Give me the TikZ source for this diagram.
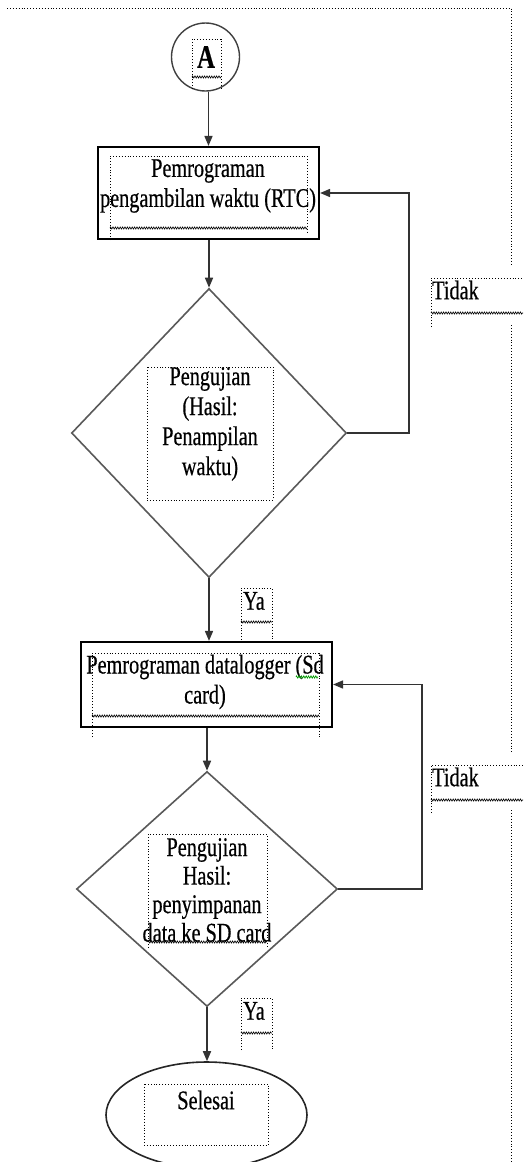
\documentclass[tikz,border=0pt]{standalone}
\usepackage{fontspec}
\setmainfont{Liberation Serif}
\newfontfamily\labfont[FakeStretch=0.75,FakeBold=0.5]{Liberation Serif}
\usetikzlibrary{shapes.geometric,arrows.meta,decorations.pathmorphing}

\begin{document}
\begin{tikzpicture}[x=1pt,y=-1pt,
  txt/.style={font=\labfont\fontsize{27}{30}\selectfont, align=center, inner sep=0pt, text=black},
  proc/.style={draw=black, line width=2.2pt, rectangle, inner sep=0pt},
  dec/.style={draw=black!65, line width=1.6pt, diamond, inner sep=0pt},
  arr/.style={draw=black!80, line width=1.6pt, -{Triangle[length=10pt,width=8pt]}},
  frame/.style={dotted, line width=0.9pt},
  wavy/.style={decorate, decoration={zigzag, segment length=2.4pt, amplitude=1.1pt}, line width=0.6pt},
]
\useasboundingbox (0,0) rectangle (523,1162);

% flowchart shapes
\node[circle, draw=black!75, line width=1.4pt, minimum size=68pt, inner sep=0pt] (start) at (205.5,57) {};
\node[proc, minimum width=221pt, minimum height=92pt] (rtc) at (208.5,193) {};
\node[dec, minimum width=275pt, minimum height=289pt] (cek1) at (209,433) {};
\node[proc, minimum width=251pt, minimum height=85pt] (sd) at (206.5,684.5) {};
\node[dec, minimum width=261pt, minimum height=235pt] (cek2) at (207,889) {};
\node[ellipse, draw=black!85, line width=1.6pt, minimum width=201pt, minimum height=106pt, inner sep=0pt] (end) at (206.5,1115) {};

% connectors
\draw[arr] (rtc.north |- start.south) -- (rtc.north);
\draw[arr] (rtc.south -| cek1.north) -- (cek1.north);
\draw[arr] (cek1.south) -- (cek1.south |- sd.north);
\draw[arr] (sd.south -| cek2.north) -- (cek2.north);
\draw[arr] (cek2.south) -- (cek2.south |- end.north);
\coordinate (loop1) at (409,193);
\coordinate (loop2) at (422,684.5);
\draw[arr] (cek1.east) -| (loop1) -- (rtc.east);
\draw[arr] (cek2.east) -| (loop2) -- (sd.east);

% labels
\node[txt, font=\labfont\bfseries\fontsize{33}{33}\selectfont] (t-a) at (206,57) {A};
\node[txt] (t-rtc) at (208,186) {Pemrograman\\pengambilan waktu (RTC)};
\node[txt] (t-cek1) at (210,424) {Pengujian\\(Hasil:\\Penampilan\\waktu)};
\node[txt] (t-sd) at (205,682) {Pemrograman datalogger (Sd\\card)};
\node[txt, font=\labfont\fontsize{27}{28.5}\selectfont] (t-cek2) at (207,890) {Pengujian\\Hasil:\\penyimpanan\\data ke SD card};
\node[txt] (t-end) at (206,1100) {Selesai};
\node[txt, anchor=west] (ya1) at (243,601) {Ya};
\node[txt, anchor=west] (ya2) at (243,1011) {Ya};
\node[txt, anchor=west] (tidak1) at (432,290) {Tidak};
\node[txt, anchor=west] (tidak2) at (432,777) {Tidak};

% text-box frames
\draw[frame] (7,8) -- (511,8) -- (511,265);
\draw[frame] (511,325) -- (511,752);
\draw[frame] (511,810) -- (511,1162);
\draw[frame] (192,89) -- (192,39) -- (221,39) -- (221,89);
\draw[wavy] (192,77) -- (221,77);
\draw[frame] (110,240) -- (110,156) -- (307,156) -- (307,233);
\draw[wavy] (110,228) -- (307,228);
\draw[frame] (147,367) rectangle (273,500);
\draw[frame] (241,640) -- (241,588) -- (272,588) -- (272,640);
\draw[wavy] (241,622) -- (272,622);
\draw[frame] (431,327) -- (431,278) -- (523,278);
\draw[wavy] (431,313) -- (523,313);
\draw[frame] (92,737) -- (92,653) -- (319,653) -- (319,737);
\draw[wavy] (92,716) -- (319,716);
\draw[wavy, draw=green!60!black, line width=0.7pt] (296,677) -- (318,677);
\draw[frame] (431,813) -- (431,765) -- (523,765);
\draw[wavy] (431,800) -- (523,800);
\draw[frame] (148,948) -- (148,834) -- (267,834) -- (267,948);
\draw[wavy] (148,942) -- (267,942);
\draw[frame] (241,1050) -- (241,998) -- (272,998) -- (272,1050);
\draw[wavy] (241,1033) -- (272,1033);
\draw[frame] (144,1084) rectangle (268,1145);
\end{tikzpicture}
\end{document}
